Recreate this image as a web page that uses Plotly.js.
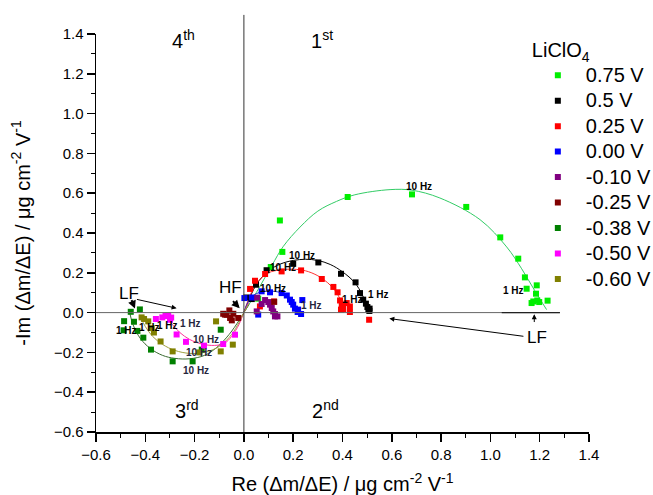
<!DOCTYPE html>
<html>
<head>
<meta charset="utf-8">
<script src="https://cdn.plot.ly/plotly-3.0.1.min.js"></script>
<style>html,body{margin:0;padding:0;background:#fff;}#chart{width:653px;height:495px;}</style>
</head>
<body>
<div id="chart"></div>
<script>
// ---- data ----
const seriesNames = ['0.75 V', '0.5 V', '0.25 V', '0.00 V', '-0.10 V', '-0.25 V', '-0.38 V', '-0.50 V', '-0.60 V'];

const x075 = [0.058, 0.109, 0.156, 0.146, 0.421, 0.682, 0.902, 1.040, 1.113, 1.140, 1.147, 1.188, 1.185, 1.174, 1.190, 1.198, 1.232, 1.167];
const y075 = [0.070, 0.229, 0.305, 0.463, 0.581, 0.594, 0.531, 0.378, 0.271, 0.177, 0.120, 0.137, 0.095, 0.056, 0.061, 0.053, 0.060, 0.048];

const x050 = [0.010, 0.032, 0.049, 0.092, 0.200, 0.302, 0.394, 0.453, 0.471, 0.484, 0.495, 0.501, 0.505, 0.509, 0.510];
const y050 = [0.076, 0.068, 0.140, 0.213, 0.245, 0.252, 0.195, 0.152, 0.098, 0.065, 0.045, 0.028, 0.018, 0.008, 0.020];

const x025 = [0.025, 0.045, 0.086, 0.153, 0.232, 0.316, 0.363, 0.380, 0.390, 0.397, 0.403, 0.394, 0.417, 0.430, 0.430, 0.508, 0.065, 0.122];
const y025 = [0.119, 0.160, 0.194, 0.207, 0.212, 0.169, 0.129, 0.102, 0.061, 0.040, 0.018, 0.015, 0.048, 0.031, 0.003, -0.036, 0.031, 0.056];

const x000 = [0.002, 0.032, 0.072, 0.106, 0.153, 0.174, 0.187, 0.194, 0.200, 0.207, 0.218, 0.220, 0.232, 0.237, 0.058];
const y000 = [0.073, 0.076, 0.107, 0.102, 0.098, 0.086, 0.065, 0.053, 0.040, 0.020, 0.003, 0.015, -0.007, 0.063, -0.010];

const xm010 = [0.054, 0.072, 0.086, 0.099, 0.106, 0.113, 0.119, 0.126, 0.136, 0.126, 0.052];
const ym010 = [0.075, 0.043, 0.063, 0.053, 0.040, 0.023, 0.006, -0.007, -0.019, -0.019, 0.006];

const xm025 = [-0.059, -0.070, -0.056, -0.049, -0.023, -0.043, -0.077, -0.084, 0.123];
const ym025 = [0.011, -0.011, -0.027, -0.039, -0.027, -0.006, -0.010, -0.006, 0.054];

const xm038 = [-0.459, -0.422, -0.486, -0.446, -0.432, -0.408, -0.377, -0.289, -0.208, -0.171, -0.094, -0.488];
const ym038 = [0.004, 0.016, -0.043, -0.046, -0.092, -0.126, -0.186, -0.245, -0.245, -0.186, -0.086, -0.089];

const xm050 = [-0.357, -0.331, -0.318, -0.307, -0.295, -0.300, -0.273, -0.235, -0.162, -0.084, -0.036];
const ym050 = [-0.032, -0.024, -0.017, -0.015, -0.025, -0.036, -0.110, -0.147, -0.166, -0.158, -0.111];

const xm060 = [-0.415, -0.405, -0.388, -0.374, -0.365, -0.338, -0.289, -0.181, -0.094, -0.113, -0.045];
const ym060 = [-0.024, -0.032, -0.044, -0.078, -0.100, -0.145, -0.195, -0.200, -0.195, -0.044, -0.161];

// fitted curves
const fitX075 = [0, 0.05, 0.113, 0.16, 0.228, 0.30, 0.376, 0.45, 0.593, 0.682, 0.795, 0.958, 1.066, 1.127, 1.18, 1.228];
const fitY075 = [0, 0.10, 0.236, 0.333, 0.430, 0.510, 0.559, 0.592, 0.618, 0.615, 0.576, 0.467, 0.330, 0.220, 0.110, 0.015];
const fitX050 = [0, 0.05, 0.10, 0.15, 0.20, 0.25, 0.30, 0.35, 0.40, 0.45, 0.48, 0.50, 0.51];
const fitY050 = [0, 0.14, 0.21, 0.245, 0.262, 0.268, 0.262, 0.242, 0.205, 0.150, 0.090, 0.030, 0.0];
const fitX025 = [0, 0.03, 0.06, 0.10, 0.15, 0.20, 0.25, 0.30, 0.34, 0.37, 0.39, 0.41];
const fitY025 = [0, 0.10, 0.16, 0.20, 0.215, 0.218, 0.21, 0.185, 0.15, 0.11, 0.07, 0.02];
const fitX000 = [0, 0.02, 0.05, 0.10, 0.15, 0.18, 0.20, 0.215, 0.225];
const fitY000 = [0, 0.06, 0.095, 0.108, 0.10, 0.08, 0.05, 0.02, 0.0];
const fitXm038 = [-0.465, -0.45, -0.42, -0.38, -0.33, -0.28, -0.22, -0.16, -0.11, -0.06, -0.02, 0, 0.02];
const fitYm038 = [0.01, -0.06, -0.13, -0.18, -0.215, -0.23, -0.232, -0.215, -0.175, -0.11, -0.04, 0, 0.04];
const fitXm050 = [-0.32, -0.29, -0.26, -0.22, -0.17, -0.12, -0.08, -0.05, -0.02, 0, 0.02];
const fitYm050 = [-0.02, -0.06, -0.10, -0.135, -0.158, -0.165, -0.155, -0.12, -0.06, 0, 0.05];
const fitXm060 = [-0.42, -0.40, -0.37, -0.33, -0.28, -0.22, -0.16, -0.10, -0.05, -0.02, 0, 0.02];
const fitYm060 = [-0.02, -0.07, -0.12, -0.16, -0.19, -0.205, -0.20, -0.17, -0.11, -0.05, 0, 0.045];

const xRange = [-0.6, 1.4];
const yRange = [-0.6, 1.4];

// ---- styling ----
const markerColors = ['#00ee00', '#000000', '#ff0000', '#0000ff', '#800080', '#800000', '#008000', '#ff00ff', '#808000'];
const seriesX = [x075, x050, x025, x000, xm010, xm025, xm038, xm050, xm060];
const seriesY = [y075, y050, y025, y000, ym010, ym025, ym038, ym050, ym060];

const fits = [
  {x: fitX075, y: fitY075, c: '#33cc66'},
  {x: fitX050, y: fitY050, c: '#000000'},
  {x: fitX025, y: fitY025, c: '#ff3333'},
  {x: fitX000, y: fitY000, c: '#2233cc'},
  {x: fitXm038, y: fitYm038, c: '#3a6a30'},
  {x: fitXm050, y: fitYm050, c: '#ff3399'},
  {x: fitXm060, y: fitYm060, c: '#a0a040'}
];

const traces = [];
fits.forEach(f => traces.push({
  x: f.x, y: f.y, mode: 'lines', type: 'scatter', showlegend: false, hoverinfo: 'skip',
  line: {color: f.c, width: 1, shape: 'spline', smoothing: 1}
}));
seriesNames.forEach((n, i) => traces.push({
  x: seriesX[i], y: seriesY[i], name: '<span style="font-size:20px">' + n + '</span>', mode: 'markers', type: 'scatter',
  marker: {symbol: 'square', size: 6, color: markerColors[i]}
}));

const FONT = 'Arial, "Liberation Sans", sans-serif';

function lbl(x, y, t, size, opts) {
  return Object.assign({x: x, y: y, xref: 'x', yref: 'y', text: t, showarrow: false,
    font: {family: FONT, size: size, color: '#000'}}, opts || {});
}
function arrow(x, y, ax, ay, w, hs) {
  return {x: x, y: y, ax: ax, ay: ay, xref: 'x', yref: 'y', axref: 'x', ayref: 'y', text: '',
    showarrow: true, arrowhead: 2, arrowsize: hs || 1, arrowwidth: w || 1, arrowcolor: '#000'};
}
const bold = {family: FONT, size: 10, color: '#000', weight: 'bold'};
const boldDark = {family: FONT, size: 10, color: '#26263c', weight: 'bold'};

const annotations = [
  lbl(-0.247, 1.371, '4<sup>th</sup>', 20),
  lbl(0.317, 1.371, '1<sup>st</sup>', 20),
  lbl(-0.23, -0.488, '3<sup>rd</sup>', 20),
  lbl(0.33, -0.488, '2<sup>nd</sup>', 20),
  lbl(-0.056, 0.127, 'HF', 17),
  lbl(-0.465, 0.098, 'LF', 17),
  lbl(1.188, -0.123, 'LF', 17),
  lbl(0.71, 0.634, '10 Hz', 10, {font: bold}),
  lbl(0.234, 0.286, '10 Hz', 10, {font: bold}),
  lbl(0.16, 0.229, '10 Hz', 10, {font: bold}),
  lbl(0.117, 0.119, '10 Hz', 10, {font: bold}),
  lbl(1.093, 0.112, '1 Hz', 10, {font: bold}),
  lbl(0.548, 0.090, '1 Hz', 10, {font: bold}),
  lbl(0.441, 0.065, '1 Hz', 10, {font: bold}),
  lbl(0.275, 0.036, '1 Hz', 10, {font: boldDark}),
  lbl(-0.475, -0.089, '1 Hz', 10, {font: bold}),
  lbl(-0.384, -0.077, '1 Hz', 10, {font: bold}),
  lbl(-0.310, -0.066, '1 Hz', 10, {font: bold}),
  lbl(-0.216, -0.057, '1 Hz', 10, {font: boldDark}),
  lbl(-0.154, -0.136, '10 Hz', 10, {font: boldDark}),
  lbl(-0.182, -0.198, '10 Hz', 10, {font: boldDark}),
  lbl(-0.196, -0.292, '10 Hz', 10, {font: boldDark}),
  arrow(-0.017, 0.022, -0.05, 0.065, 2, 0.8),
  arrow(-0.442, 0.02, -0.458, 0.07, 2, 0.8),
  arrow(-0.273, 0.022, -0.44, 0.068, 1, 1),
  arrow(0.59, -0.03, 1.14, -0.12, 1, 1),
  arrow(1.178, -0.008, 1.178, -0.055, 1, 1)
];

const zx = (0 - xRange[0]) / (xRange[1] - xRange[0]);
const zy = (0 - yRange[0]) / (yRange[1] - yRange[0]);
const shapes = [
  {type: 'line', xref: 'paper', yref: 'paper', x0: zx, x1: zx, y0: 0, y1: 1.048, line: {color: '#333', width: 1}},
  {type: 'line', xref: 'paper', yref: 'paper', x0: 0, x1: (1.282 - xRange[0]) / (xRange[1] - xRange[0]), y0: zy, y1: zy, line: {color: '#666', width: 1}},
  {type: 'line', xref: 'paper', yref: 'paper', x0: (1.046 - xRange[0]) / (xRange[1] - xRange[0]), x1: (1.282 - xRange[0]) / (xRange[1] - xRange[0]), y0: zy, y1: zy, line: {color: '#222', width: 1.2}}
];

const axisCommon = {
  showgrid: false, zeroline: false, showline: true, linecolor: '#000', linewidth: 1.5,
  ticks: 'outside', ticklen: 8, tickwidth: 1.5, tickcolor: '#000', dtick: 0.2,
  tickformat: '.1f', tickfont: {family: FONT, size: 15, color: '#000'},
  minor: {ticks: 'outside', ticklen: 4, tickwidth: 1, tickcolor: '#000', dtick: 0.1},
  mirror: false
};

const layout = {
  width: 653, height: 495,
  margin: {l: 96, r: 64, t: 34, b: 63, autoexpand: false},
  paper_bgcolor: '#fff', plot_bgcolor: '#fff',
  font: {family: FONT, color: '#000'},
  xaxis: Object.assign({}, axisCommon, {range: xRange,
    title: {text: 'Re (Δm/ΔE) / μg cm<sup>-2</sup> V<sup>-1</sup>', font: {family: FONT, size: 20, color: '#000'}, standoff: 16}}),
  yaxis: Object.assign({}, axisCommon, {range: yRange,
    title: {text: '-Im (Δm/ΔE) / μg cm<sup>-2</sup> V<sup>-1</sup>', font: {family: FONT, size: 20, color: '#000'}, standoff: 18}}),
  legend: {x: 0.88, y: 1.0, xanchor: 'left', yanchor: 'top', bgcolor: 'rgba(0,0,0,0)',
    font: {family: FONT, size: 17.3, color: '#000'}, itemwidth: 46,
    title: {text: '<span style="font-size:20px">LiClO<sub>4</sub></span>', font: {family: FONT, size: 18, color: '#000'}}},
  showlegend: true,
  annotations: annotations,
  shapes: shapes
};

Plotly.newPlot('chart', traces, layout, {staticPlot: true});
</script>
</body>
</html>
